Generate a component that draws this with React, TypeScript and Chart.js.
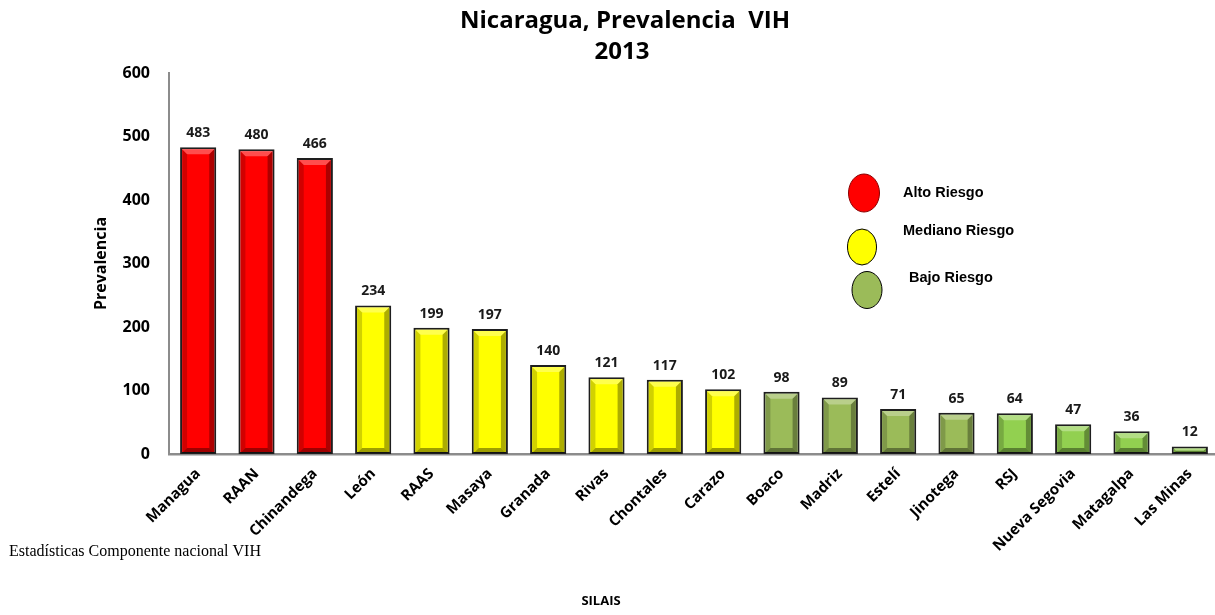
import React, { useEffect, useRef } from 'react';
import { Chart, registerables } from 'chart.js';

Chart.register(...registerables);

const categories = [
  'Managua', 'RAAN', 'Chinandega', 'León', 'RAAS', 'Masaya', 'Granada', 'Rivas', 'Chontales',
  'Carazo', 'Boaco', 'Madriz', 'Estelí', 'Jinotega', 'RSJ', 'Nueva Segovia', 'Matagalpa', 'Las Minas',
];
const prevalencia = [483, 480, 466, 234, 199, 197, 140, 121, 117, 102, 98, 89, 71, 65, 64, 47, 36, 12];
const riskGroup = [
  'alto', 'alto', 'alto', 'mediano', 'mediano', 'mediano', 'mediano', 'mediano', 'mediano',
  'mediano', 'bajo', 'bajo', 'bajo', 'bajo', 'bajoClaro', 'bajoClaro', 'bajoClaro', 'bajoClaro',
];
const yTickValues = [0, 100, 200, 300, 400, 500, 600];
const legendLabels = ['Alto Riesgo', 'Mediano Riesgo', 'Bajo Riesgo'];
const titleLines = ['Nicaragua, Prevalencia  VIH', '2013'];
const yAxisTitle = 'Prevalencia';
const xAxisTitle = 'SILAIS';
const sourceNote = 'Estadísticas Componente nacional VIH';

const groupColors: Record<string, string> = {
  alto: '#FF0000',
  mediano: '#FFFF00',
  bajo: '#9BBB59',
  bajoClaro: '#92D050',
};

const FONT = "'Open Sans', 'DejaVu Sans', sans-serif";

const bevelPlugin = {
  id: 'bevel',
  afterDatasetsDraw(chart: any) {
    const ctx = chart.ctx;
    const meta = chart.getDatasetMeta(0);
    meta.data.forEach((bar: any) => {
      const { x, y, base, width } = bar.getProps(['x', 'y', 'base', 'width'], true);
      const l = x - width / 2 + 2;
      const r = x + width / 2 - 2;
      const t = y + 2;
      const b = base - 1;
      const h = b - t;
      const d = Math.min(5, h / 2, (r - l) / 2);
      if (d <= 0) return;
      ctx.save();
      ctx.fillStyle = 'rgba(255,255,255,0.3)';
      ctx.beginPath();
      ctx.moveTo(l, t); ctx.lineTo(r, t); ctx.lineTo(r - d, t + d); ctx.lineTo(l + d, t + d); ctx.closePath();
      ctx.fill();
      ctx.fillStyle = 'rgba(0,0,0,0.18)';
      ctx.beginPath();
      ctx.moveTo(l, t); ctx.lineTo(l + d, t + d); ctx.lineTo(l + d, b - d); ctx.lineTo(l, b); ctx.closePath();
      ctx.fill();
      ctx.fillStyle = 'rgba(0,0,0,0.32)';
      ctx.beginPath();
      ctx.moveTo(r, t); ctx.lineTo(r - d, t + d); ctx.lineTo(r - d, b - d); ctx.lineTo(r, b); ctx.closePath();
      ctx.fill();
      ctx.fillStyle = 'rgba(0,0,0,0.38)';
      ctx.beginPath();
      ctx.moveTo(l, b); ctx.lineTo(l + d, b - d); ctx.lineTo(r - d, b - d); ctx.lineTo(r, b); ctx.closePath();
      ctx.fill();
      ctx.restore();
    });
  },
};

const valueLabelPlugin = {
  id: 'valueLabels',
  afterDatasetsDraw(chart: any) {
    const ctx = chart.ctx;
    const meta = chart.getDatasetMeta(0);
    const data = chart.data.datasets[0].data;
    ctx.save();
    ctx.font = `bold 14px ${FONT}`;
    ctx.fillStyle = '#1a1a1a';
    ctx.textAlign = 'center';
    ctx.textBaseline = 'middle';
    meta.data.forEach((bar: any, i: number) => {
      ctx.fillText(String(data[i]), bar.x, bar.y - 14);
    });
    ctx.restore();
  },
};

const decorPlugin = {
  id: 'decor',
  afterDraw(chart: any) {
    const ctx = chart.ctx;
    ctx.save();
    ctx.fillStyle = '#000';
    ctx.textAlign = 'center';
    ctx.textBaseline = 'middle';
    ctx.font = `bold 24px ${FONT}`;
    ctx.fillText(titleLines[0], 625, 21);
    ctx.fillText(titleLines[1], 622, 52);

    ctx.font = `bold 13px ${FONT}`;
    ctx.fillText(xAxisTitle, 601, 601);

    ctx.textAlign = 'left';
    ctx.textBaseline = 'alphabetic';
    ctx.font = `16px 'Liberation Serif', 'Times New Roman', serif`;
    ctx.fillText(sourceNote, 9, 556);

    const ellipses = [
      { cx: 864, cy: 193, rx: 15.5, ry: 19, fill: groupColors.alto, stroke: '#8B0000' },
      { cx: 862, cy: 247, rx: 14.5, ry: 18, fill: groupColors.mediano, stroke: '#000' },
      { cx: 867, cy: 290, rx: 15, ry: 18.5, fill: groupColors.bajo, stroke: '#000' },
    ];
    ellipses.forEach((e) => {
      ctx.beginPath();
      ctx.ellipse(e.cx, e.cy, e.rx, e.ry, 0, 0, Math.PI * 2);
      ctx.fillStyle = e.fill;
      ctx.fill();
      ctx.lineWidth = 1;
      ctx.strokeStyle = e.stroke;
      ctx.stroke();
    });
    ctx.fillStyle = '#000';
    ctx.textBaseline = 'middle';
    ctx.font = `bold 14.5px 'Liberation Sans', Arial, sans-serif`;
    ctx.fillText(legendLabels[0], 903, 193);
    ctx.fillText(legendLabels[1], 903, 231);
    ctx.fillText(legendLabels[2], 909, 278);
    ctx.restore();
  },
};

export default function App() {
  const canvasRef = useRef<HTMLCanvasElement | null>(null);

  useEffect(() => {
    if (!canvasRef.current) return;
    const chart = new Chart(canvasRef.current, {
      type: 'bar',
      data: {
        labels: categories,
        datasets: [
          {
            data: prevalencia,
            backgroundColor: riskGroup.map((g) => groupColors[g]),
            borderColor: '#1e1e1e',
            borderWidth: 2,
            borderSkipped: false,
            barPercentage: 0.62,
            categoryPercentage: 1,
          },
        ],
      },
      options: {
        responsive: false,
        animation: false,
        devicePixelRatio: 1,
        layout: { padding: { top: 73, left: 0, right: 3, bottom: 0 } },
        plugins: {
          legend: { display: false },
          title: { display: false },
          tooltip: { enabled: false },
        },
        scales: {
          x: {
            grid: { display: false, drawTicks: false },
            border: { display: true, color: '#8c8c8c', width: 2.5 },
            ticks: {
              autoSkip: false,
              maxRotation: 45,
              minRotation: 45,
              padding: 11,
              color: '#000',
              font: { family: FONT, weight: 'bold', size: 15 },
            },
            afterFit: (scale: any) => {
              scale.height = 161;
            },
          },
          y: {
            min: 0,
            max: 600,
            afterBuildTicks: (scale: any) => {
              scale.ticks = yTickValues.map((v) => ({ value: v }));
            },
            grid: { display: false, drawTicks: false },
            border: { display: true, color: '#8c8c8c', width: 2 },
            ticks: {
              padding: 19,
              color: '#000',
              font: { family: FONT, weight: 'bold', size: 16 },
            },
            title: {
              display: true,
              text: yAxisTitle,
              color: '#000',
              font: { family: FONT, weight: 'bold', size: 16 },
              padding: { top: 92, bottom: 0 },
            },
            afterFit: (scale: any) => {
              scale.width = 169;
            },
          },
        },
      },
      plugins: [bevelPlugin, valueLabelPlugin, decorPlugin],
    });
    return () => chart.destroy();
  }, []);

  return (
    <div style={{ position: 'absolute', left: 0, top: 0, width: 1215, height: 615, overflow: 'hidden', background: '#fff' }}>
      <canvas ref={canvasRef} width={1222} height={615} style={{ display: 'block' }} />
    </div>
  );
}
